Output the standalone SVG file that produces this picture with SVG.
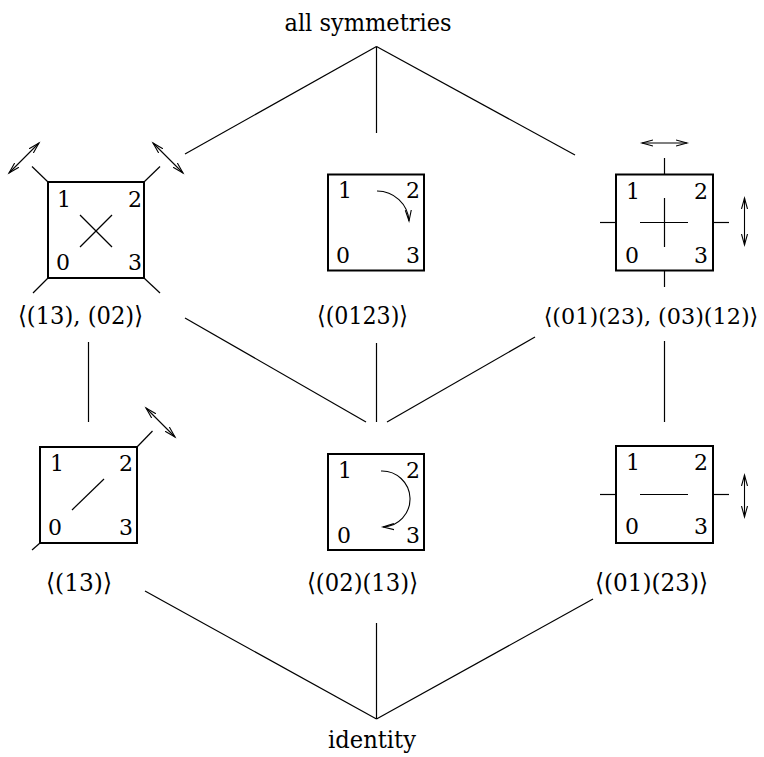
<svg xmlns="http://www.w3.org/2000/svg" width="764" height="757" viewBox="0 0 764 757">
<style>
text{font-family:'DejaVu Serif','Liberation Serif',serif;fill:#000}
.lab{font-size:25px}
.labs{font-size:22.3px}
.d{font-size:22px}
.box{fill:none;stroke:#000;stroke-width:2}
.ln{fill:none;stroke:#000;stroke-width:1.2}
.ar{fill:none;stroke:#000;stroke-width:1.1;marker-start:url(#ah);marker-end:url(#ah)}
.ar1{fill:none;stroke:#000;stroke-width:1.1;marker-end:url(#ah)}
</style>
<defs>
<marker id="ah" markerUnits="userSpaceOnUse" markerWidth="14" markerHeight="10" refX="11" refY="4" orient="auto-start-reverse" viewBox="0 0 14 8">
<path d="M0,1 L11,4 L0,7" fill="none" stroke="#000" stroke-width="1.1"/>
</marker>
</defs>
<rect width="764" height="757" fill="#fff"/>
<g id="connectors">
<line class="ln" x1="376.5" y1="46.5" x2="185" y2="154"/>
<line class="ln" x1="376.5" y1="46.5" x2="376.5" y2="133"/>
<line class="ln" x1="376.5" y1="46.5" x2="575" y2="155"/>
<line class="ln" x1="185" y1="318" x2="366" y2="422"/>
<line class="ln" x1="376.5" y1="343" x2="376.5" y2="422"/>
<line class="ln" x1="387" y1="422" x2="535" y2="337"/>
<line class="ln" x1="88.5" y1="342" x2="88.5" y2="422"/>
<line class="ln" x1="664.5" y1="341" x2="664.5" y2="422"/>
<line class="ln" x1="145" y1="591" x2="376.5" y2="719"/>
<line class="ln" x1="376.5" y1="623" x2="376.5" y2="719"/>
<line class="ln" x1="376.5" y1="719" x2="593" y2="599"/>
</g>
<g id="all">
<text class="lab" x="368" y="31" text-anchor="middle" textLength="167" lengthAdjust="spacingAndGlyphs">all symmetries</text>
</g>
<g id="g1302">
<rect class="box" x="48" y="182" width="96" height="96"/>
<line class="ln" x1="48" y1="182" x2="32" y2="166.5"/>
<line class="ln" x1="144" y1="182" x2="160" y2="166.5"/>
<line class="ln" x1="48" y1="278" x2="33" y2="293"/>
<line class="ln" x1="144" y1="278" x2="160" y2="293"/>
<line class="ar" x1="9" y1="173" x2="39" y2="143"/>
<line class="ar" x1="153" y1="143" x2="183" y2="173"/>
<line class="ln" x1="80" y1="215" x2="112" y2="247"/>
<line class="ln" x1="80" y1="247" x2="112" y2="215"/>
<text class="d" x="57" y="207">1</text>
<text class="d" x="142" y="207" text-anchor="end">2</text>
<text class="d" x="56" y="270">0</text>
<text class="d" x="142" y="270" text-anchor="end">3</text>
<text class="lab" x="18" y="324" textLength="125" lengthAdjust="spacingAndGlyphs">⟨(13), (02)⟩</text>
</g>
<g id="g0123">
<rect class="box" x="328" y="174.5" width="96" height="96"/>
<path class="ar1" d="M377,191 A32,32 0 0 1 409,221"/>
<text class="d" x="338" y="198">1</text>
<text class="d" x="420" y="198" text-anchor="end">2</text>
<text class="d" x="336" y="263">0</text>
<text class="d" x="420" y="263" text-anchor="end">3</text>
<text class="lab" x="317" y="324" textLength="91" lengthAdjust="spacingAndGlyphs">⟨(0123)⟩</text>
</g>
<g id="gklein">
<rect class="box" x="616" y="174.5" width="97" height="96"/>
<line class="ln" x1="664.5" y1="158" x2="664.5" y2="174.5"/>
<line class="ln" x1="664.5" y1="270.5" x2="664.5" y2="287"/>
<line class="ln" x1="600" y1="222.5" x2="616" y2="222.5"/>
<line class="ln" x1="713" y1="222.5" x2="729" y2="222.5"/>
<line class="ln" x1="640" y1="222.5" x2="688" y2="222.5"/>
<line class="ln" x1="664.5" y1="198" x2="664.5" y2="247"/>
<line class="ar" x1="642" y1="143" x2="687" y2="143"/>
<line class="ar" x1="744.5" y1="198" x2="744.5" y2="245"/>
<text class="d" x="626" y="199">1</text>
<text class="d" x="708" y="199" text-anchor="end">2</text>
<text class="d" x="625" y="263">0</text>
<text class="d" x="708" y="263" text-anchor="end">3</text>
<text class="labs" x="651" y="324" text-anchor="middle">⟨(01)(23), (03)(12)⟩</text>
</g>
<g id="g13">
<rect class="box" x="40" y="447" width="97" height="96"/>
<line class="ln" x1="137" y1="447" x2="152.5" y2="431"/>
<line class="ln" x1="40" y1="543" x2="32" y2="550"/>
<line class="ar" x1="146" y1="408" x2="175" y2="437"/>
<line class="ln" x1="72" y1="510" x2="104" y2="479"/>
<text class="d" x="50" y="471">1</text>
<text class="d" x="133" y="471" text-anchor="end">2</text>
<text class="d" x="48" y="535">0</text>
<text class="d" x="133" y="535" text-anchor="end">3</text>
<text class="lab" x="46" y="591" textLength="66" lengthAdjust="spacingAndGlyphs">⟨(13)⟩</text>
</g>
<g id="g0213">
<rect class="box" x="328" y="454" width="96" height="96"/>
<path class="ar1" d="M381,471 A28,28 0 0 1 383,527"/>
<text class="d" x="338" y="478">1</text>
<text class="d" x="420" y="478" text-anchor="end">2</text>
<text class="d" x="337" y="543">0</text>
<text class="d" x="420" y="543" text-anchor="end">3</text>
<text class="lab" x="307" y="591" textLength="111" lengthAdjust="spacingAndGlyphs">⟨(02)(13)⟩</text>
</g>
<g id="g0123b">
<rect class="box" x="616" y="446" width="97" height="97"/>
<line class="ln" x1="600" y1="494.5" x2="616" y2="494.5"/>
<line class="ln" x1="713" y1="494.5" x2="729" y2="494.5"/>
<line class="ln" x1="640" y1="494.5" x2="688" y2="494.5"/>
<line class="ar" x1="744.5" y1="475" x2="744.5" y2="517"/>
<text class="d" x="626" y="470">1</text>
<text class="d" x="708" y="470" text-anchor="end">2</text>
<text class="d" x="625" y="534">0</text>
<text class="d" x="708" y="534" text-anchor="end">3</text>
<text class="lab" x="595" y="591" textLength="113" lengthAdjust="spacingAndGlyphs">⟨(01)(23)⟩</text>
</g>
<g id="identity">
<text class="lab" x="372" y="748" text-anchor="middle" textLength="88" lengthAdjust="spacingAndGlyphs">identity</text>
</g>
</svg>
